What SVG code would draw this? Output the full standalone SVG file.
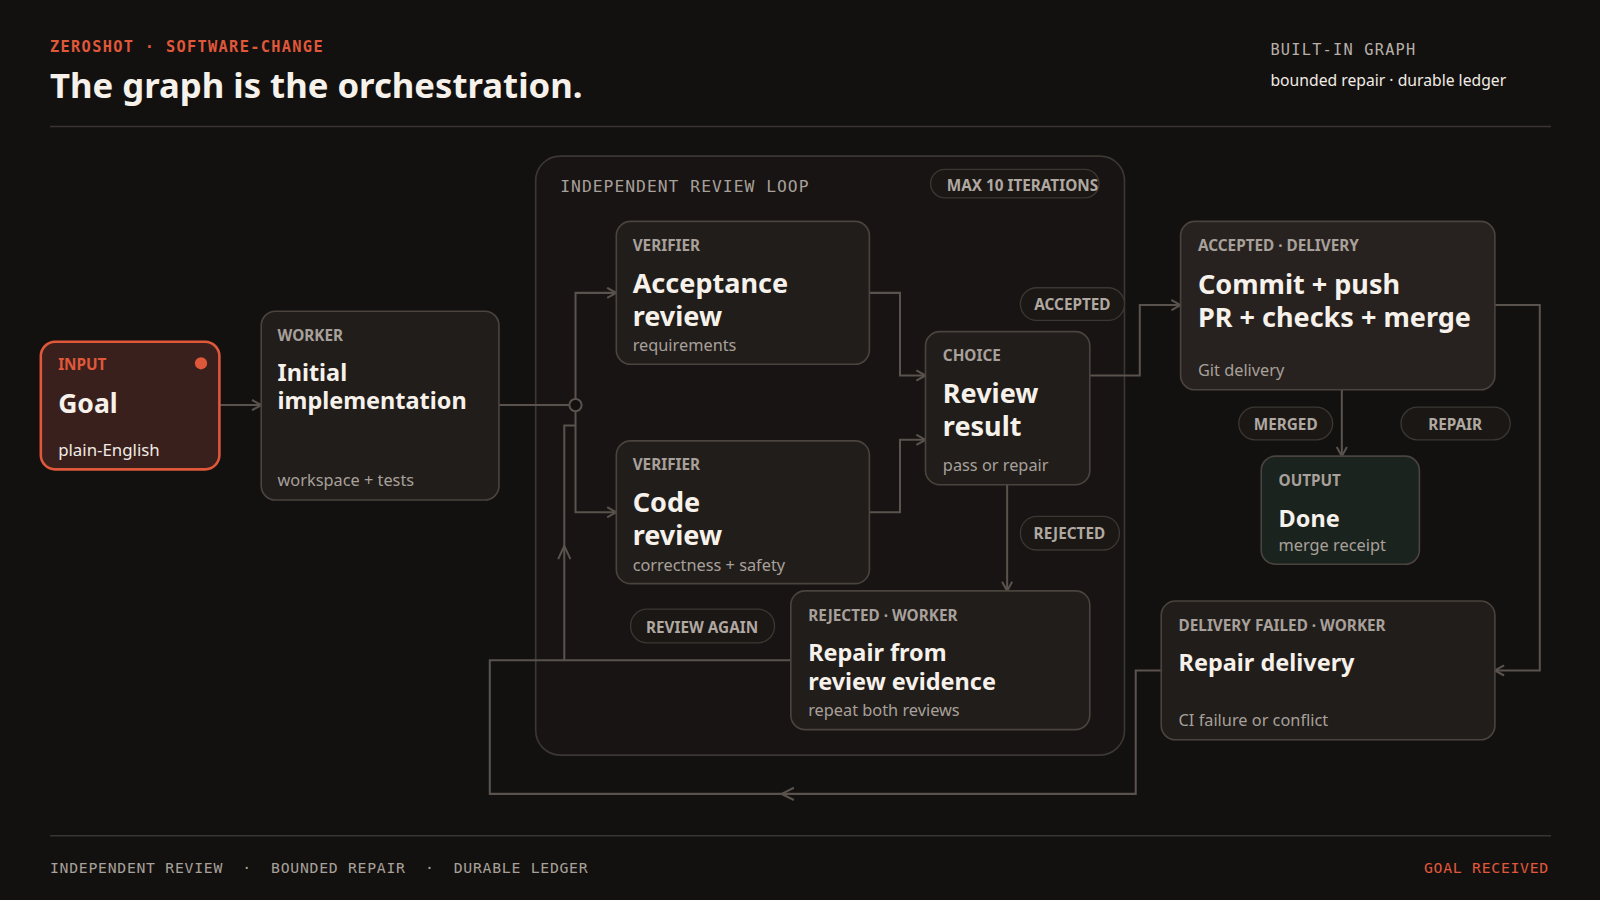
<svg xmlns="http://www.w3.org/2000/svg" width="1600" height="900" viewBox="0 0 1600 900">
<defs>
<style>
.mono{font-family:"DejaVu Sans Mono","Liberation Mono",monospace}
.ns{font-family:"Noto Sans","Open Sans",sans-serif}
.box{fill:#211d1a;stroke:#4a433e;stroke-width:1.6}
.kick{font-family:"Noto Sans",sans-serif;font-weight:700;font-size:15px;fill:#a8a09a}
.t{font-family:"Noto Sans",sans-serif;font-weight:700;fill:#f6f1ea}
.sub{font-family:"Noto Sans",sans-serif;font-size:16px;fill:#a8a09a}
.pill{fill:#1a1715;stroke:#3d3733;stroke-width:1.3}
.pt{font-family:"Noto Sans",sans-serif;font-weight:700;font-size:15px;fill:#b0a8a1;text-anchor:middle}
.c{fill:none;stroke:#5a524c;stroke-width:2}
</style>
<marker id="a" viewBox="0 0 10 12" refX="10" refY="6" markerWidth="10" markerHeight="12" markerUnits="userSpaceOnUse" orient="auto"><path d="M1,1 L10,6 L1,11" fill="none" stroke="#5a524c" stroke-width="2"/></marker>
</defs>
<rect width="1600" height="900" fill="#131110"/>
<g transform="scale(1.020408)">
<g id="header">
<text x="49" y="51" class="mono" font-size="15" font-weight="700" letter-spacing="1.3" fill="#e0583a">ZEROSHOT · SOFTWARE-CHANGE</text>
<text x="49" y="96" class="ns" font-size="34" font-weight="700" fill="#f6f1ea">The graph is the orchestration.</text>
<text x="1245" y="54" class="mono" font-size="15" letter-spacing="1.2" fill="#b8b0a9">BUILT-IN GRAPH</text>
<text x="1245" y="84" class="ns" font-size="15.4" fill="#f0ebe4">bounded repair · durable ledger</text>
<line x1="49" y1="124" x2="1520" y2="124" stroke="#3a3430" stroke-width="1.3"/>
</g>
<g id="loop">
<rect x="525" y="153" width="577" height="587" rx="24" fill="#171413" stroke="#3d3733" stroke-width="1.6"/>
<text x="549" y="188" class="mono" font-size="16" letter-spacing="1" fill="#a8a09a">INDEPENDENT REVIEW LOOP</text>
<rect x="912" y="166" width="165" height="28" rx="14" class="pill"/>
<text x="1002" y="187" class="pt">MAX 10 ITERATIONS</text>
</g>
<g id="connectors">
<path class="c" d="M215,397 H256" marker-end="url(#a)"/>
<path class="c" d="M489,397 H558"/>
<circle cx="564" cy="397" r="6" fill="#131110" stroke="#5a524c" stroke-width="2"/>
<path class="c" d="M564,391 V287 H604" marker-end="url(#a)"/>
<path class="c" d="M564,403 V502 H604" marker-end="url(#a)"/>
<path class="c" d="M775,647 H553 V417 H564"/>
<path class="c" d="M547,548 L553,535 L559,548"/>
<path class="c" d="M852,287 H882 V368 H907" marker-end="url(#a)"/>
<path class="c" d="M852,502 H882 V431 H907" marker-end="url(#a)"/>
<path class="c" d="M1068,368 H1117 V299 H1157" marker-end="url(#a)"/>
<path class="c" d="M987,475 V579" marker-end="url(#a)"/>
<path class="c" d="M1315,382 V447" marker-end="url(#a)"/>
<path class="c" d="M1465,299 H1509 V657 H1465" marker-end="url(#a)"/>
<path class="c" d="M1138,657 H1113 V778 H480 V647 H553"/>
<path class="c" d="M778,772 L766,778 L778,784"/>
</g>
<g id="pills">
<rect x="1000" y="282" width="102" height="32" rx="16" class="pill"/><text x="1051" y="304" class="pt">ACCEPTED</text>
<rect x="1000" y="506" width="97" height="33" rx="16" class="pill"/><text x="1048" y="528" class="pt">REJECTED</text>
<rect x="1214" y="399" width="92" height="32" rx="16" class="pill"/><text x="1260" y="421" class="pt">MERGED</text>
<rect x="1373" y="399" width="107" height="32" rx="16" class="pill"/><text x="1426" y="421" class="pt">REPAIR</text>
<rect x="618" y="597" width="141" height="33" rx="16" class="pill"/><text x="688" y="620" class="pt">REVIEW AGAIN</text>
</g>
<g id="goal">
<rect x="40" y="335" width="175" height="125" rx="14" fill="#3a201d" stroke="#e0583a" stroke-width="2.5"/>
<text x="57" y="363" class="kick" style="fill:#e0583a">INPUT</text>
<circle cx="197" cy="356" r="6" fill="#e0583a"/>
<text x="57" y="405" class="t" font-size="26">Goal</text>
<text x="57" y="447" class="ns" font-size="16.5" fill="#f0ebe4">plain-English</text>
</g>
<g id="initial">
<rect x="256" y="305" width="233" height="185" rx="14" class="box"/>
<text x="272" y="334" class="kick">WORKER</text>
<text x="272" y="373" class="t" font-size="23">Initial</text>
<text x="272" y="401" class="t" font-size="23">implementation</text>
<text x="272" y="476" class="sub">workspace + tests</text>
</g>
<g id="acceptance">
<rect x="604" y="217" width="248" height="140" rx="14" class="box"/>
<text x="620" y="246" class="kick">VERIFIER</text>
<text x="620" y="287" class="t" font-size="26.5">Acceptance</text>
<text x="620" y="319" class="t" font-size="26.5">review</text>
<text x="620" y="344" class="sub">requirements</text>
</g>
<g id="code">
<rect x="604" y="432" width="248" height="140" rx="14" class="box"/>
<text x="620" y="461" class="kick">VERIFIER</text>
<text x="620" y="502" class="t" font-size="26.5">Code</text>
<text x="620" y="534" class="t" font-size="26.5">review</text>
<text x="620" y="560" class="sub">correctness + safety</text>
</g>
<g id="choice">
<rect x="907" y="325" width="161" height="150" rx="14" class="box"/>
<text x="924" y="354" class="kick">CHOICE</text>
<text x="924" y="395" class="t" font-size="26.5">Review</text>
<text x="924" y="427" class="t" font-size="26.5">result</text>
<text x="924" y="462" class="sub">pass or repair</text>
</g>
<g id="repair-review">
<rect x="775" y="579" width="293" height="136" rx="14" class="box"/>
<text x="792" y="609" class="kick">REJECTED · WORKER</text>
<text x="792" y="648" class="t" font-size="23">Repair from</text>
<text x="792" y="676" class="t" font-size="23">review evidence</text>
<text x="792" y="702" class="sub">repeat both reviews</text>
</g>
<g id="commit">
<rect x="1157" y="217" width="308" height="165" rx="14" class="box" style="fill:#27221f"/>
<text x="1174" y="246" class="kick">ACCEPTED · DELIVERY</text>
<text x="1174" y="288" class="t" font-size="26.5">Commit + push</text>
<text x="1174" y="320" class="t" font-size="26.5">PR + checks + merge</text>
<text x="1174" y="368" class="sub">Git delivery</text>
</g>
<g id="done">
<rect x="1236" y="447" width="155" height="106" rx="14" class="box" style="fill:#1b231e"/>
<text x="1253" y="476" class="kick">OUTPUT</text>
<text x="1253" y="516" class="t" font-size="23">Done</text>
<text x="1253" y="540" class="sub">merge receipt</text>
</g>
<g id="repair-delivery">
<rect x="1138" y="589" width="327" height="136" rx="14" class="box"/>
<text x="1155" y="618" class="kick">DELIVERY FAILED · WORKER</text>
<text x="1155" y="658" class="t" font-size="23">Repair delivery</text>
<text x="1155" y="711" class="sub">CI failure or conflict</text>
</g>
<g id="footer">
<line x1="49" y1="819" x2="1520" y2="819" stroke="#3a3430" stroke-width="1.3"/>
<text x="49" y="856" class="mono" font-size="14.5" letter-spacing="0.7" fill="#a8a09a" xml:space="preserve">INDEPENDENT REVIEW  ·  BOUNDED REPAIR  ·  DURABLE LEDGER</text>
<text x="1518" y="856" class="mono" font-size="14.5" letter-spacing="0.7" fill="#e0583a" text-anchor="end">GOAL RECEIVED</text>
</g>
</g>
</svg>
